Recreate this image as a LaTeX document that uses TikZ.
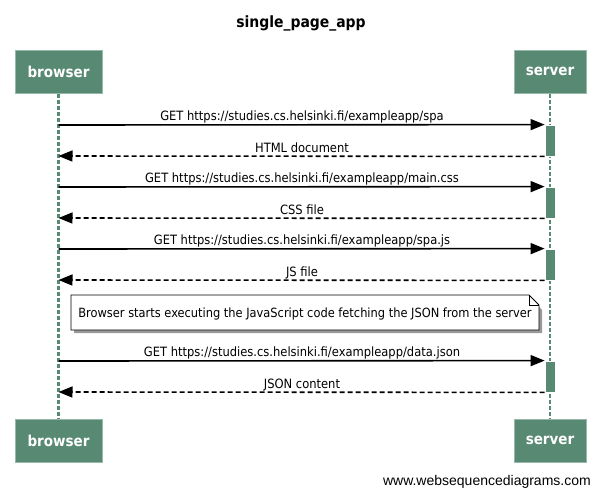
\documentclass[tikz,border=0pt]{standalone}
\usepackage{fontspec}
\setmainfont{DejaVu Sans Condensed}
\newfontfamily\wmfont{Liberation Sans}
\usetikzlibrary{arrows.meta}
\definecolor{actorgreen}{RGB}{88,137,115}
\definecolor{actorborder}{RGB}{150,185,170}
\tikzset{
  actor/.style={draw=actorborder, line width=1pt, fill=actorgreen, minimum width=87pt, minimum height=43pt, inner sep=0pt, text=white, font=\fontsize{15}{15}\selectfont\bfseries},
  lifeline/.style={draw=actorgreen, line width=2.4pt, dash pattern=on 4pt off 2pt},
  actbar/.style={fill=actorgreen, draw=white, line width=0.8pt, minimum width=10pt, minimum height=31pt, inner sep=0pt},
  req/.style={draw=black, line width=1.6pt, -{Triangle[length=14pt,width=11pt]}},
  resp/.style={draw=black, line width=1.6pt, dash pattern=on 5pt off 3pt, -{Triangle[length=14pt,width=11pt]}},
  msglabel/.style={font=\fontsize{12.8}{13}\selectfont, inner sep=0pt, anchor=base},
}
\begin{document}
\begin{tikzpicture}[x=1pt,y=-1pt]
\useasboundingbox (0,0) rectangle (602,496);
\fill[white] (0,0) rectangle (602,496);
% title
\node[font=\fontsize{15.5}{16}\selectfont\bfseries, inner sep=0pt, anchor=base] (title) at (301,27) {single\_page\_app};
% actors
\node[actor] (bt) at (58.5,71.5) {browser};
\node[actor, minimum width=72pt] (st) at (550,71.5) {server};
\node[actor] (bb) at (58.5,440.5) {browser};
\node[actor, minimum width=72pt] (sb) at (550,440.5) {server};
% lifelines
\draw[lifeline] (bt.south) -- (bb.north);
\draw[lifeline] (st.south) -- (sb.north);
% activation bars
\node[actbar] (a1) at (550,140.5) {};
\node[actbar] (a2) at (550,202.5) {};
\node[actbar] (a3) at (550,264.5) {};
\node[actbar] (a4) at (550,376.5) {};
% messages
\coordinate (b1) at (58.5,125);
\coordinate (b2) at (58.5,156);
\coordinate (b3) at (58.5,187);
\coordinate (b4) at (58.5,218);
\coordinate (b5) at (58.5,249);
\coordinate (b6) at (58.5,280);
\coordinate (b7) at (58.5,361);
\coordinate (b8) at (58.5,392);
\draw[req] (b1) -- (a1.north west);
\draw[resp] (a1.south west) -- (b2);
\draw[req] (b3) -- (a2.north west);
\draw[resp] (a2.south west) -- (b4);
\draw[req] (b5) -- (a3.north west);
\draw[resp] (a3.south west) -- (b6);
\draw[req] (b7) -- (a4.north west);
\draw[resp] (a4.south west) -- (b8);
\node[msglabel] (l1) at (302,120) {GET https://studies.cs.helsinki.fi/exampleapp/spa};
\node[msglabel] (l2) at (302,152) {HTML document};
\node[msglabel] (l3) at (302,182) {GET https://studies.cs.helsinki.fi/exampleapp/main.css};
\node[msglabel] (l4) at (302,214) {CSS file};
\node[msglabel] (l5) at (302,244) {GET https://studies.cs.helsinki.fi/exampleapp/spa.js};
\node[msglabel] (l6) at (302,276) {JS file};
\node[msglabel] (l7) at (302,356) {GET https://studies.cs.helsinki.fi/exampleapp/data.json};
\node[msglabel] (l8) at (302,388) {JSON content};
% note
\fill[black!40] (74,298) -- (530,298) -- (542,310) -- (542,333) -- (74,333) -- cycle;
\draw[fill=white, line width=0.8pt] (71,295) -- (529,295) -- (539,305) -- (539,330) -- (71,330) -- cycle;
\draw[line width=0.8pt] (529,295) -- (529,305) -- (539,305);
\node[msglabel, font=\fontsize{12.7}{13}\selectfont] (note) at (305,317.5) {Browser starts executing the JavaScript code fetching the JSON from the server};
% watermark
\node[font=\wmfont\fontsize{14}{14}\selectfont, inner sep=0pt, anchor=base east] (wm) at (591,485) {www.websequencediagrams.com};
\end{tikzpicture}
\end{document}
